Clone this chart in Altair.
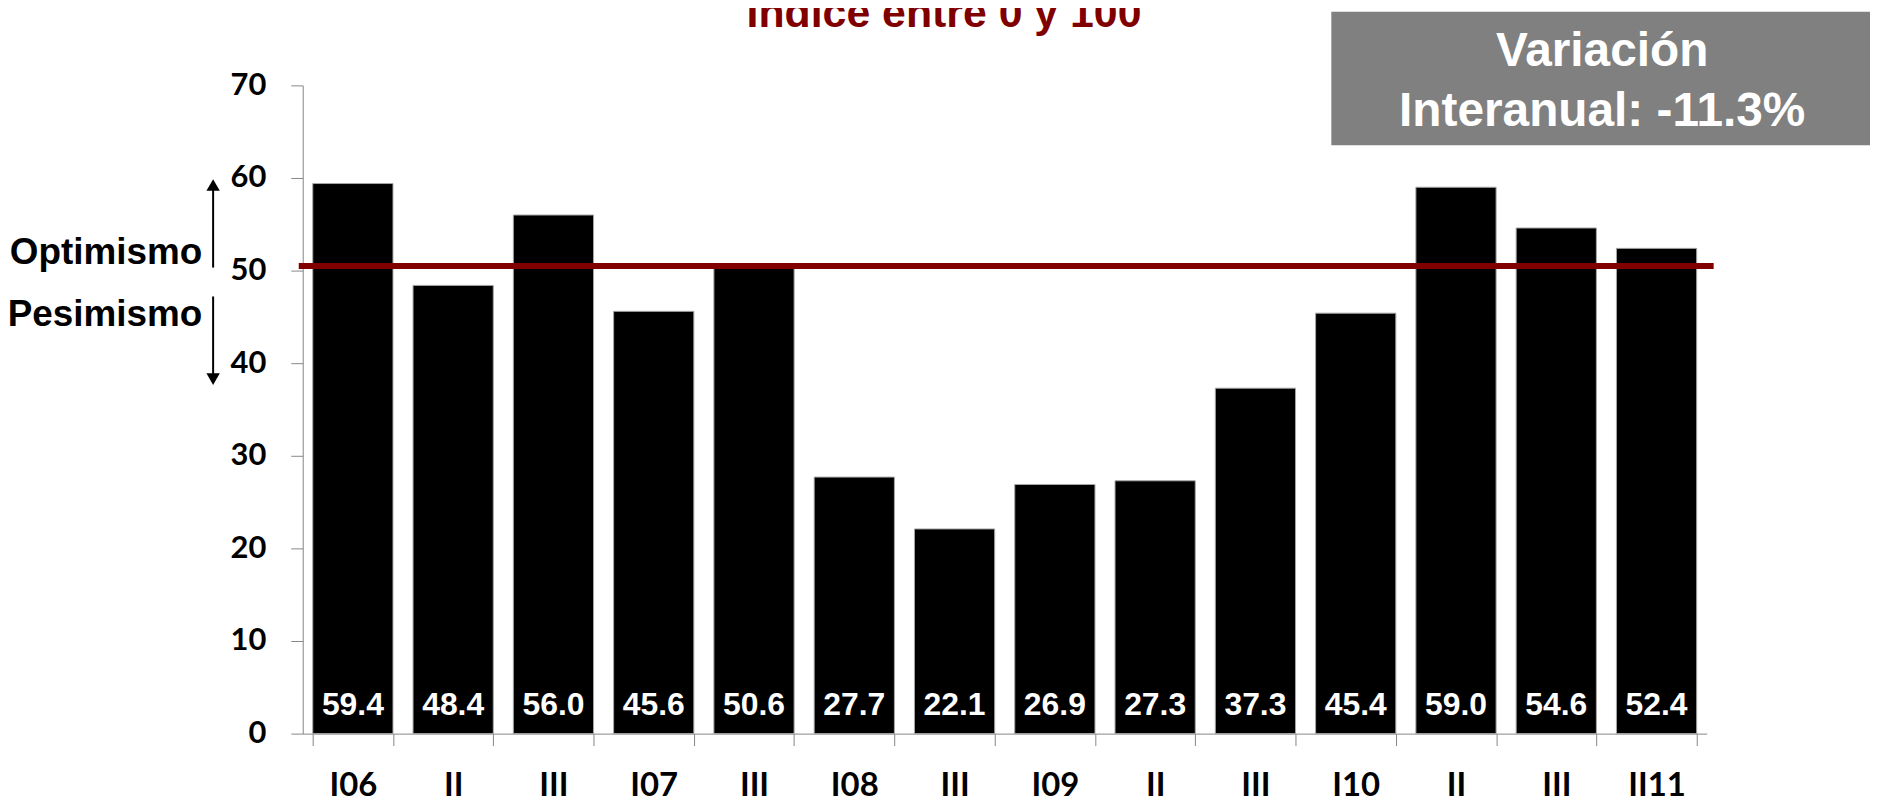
import altair as alt
import pandas as pd

quarters = ["I06", "II", "III", "I07", "III", "I08", "III", "I09", "II", "III", "I10", "II", "III", "II11"]
values = [59.4, 48.4, 56.0, 45.6, 50.6, 27.7, 22.1, 26.9, 27.3, 37.3, 45.4, 59.0, 54.6, 52.4]
threshold = [50.5]
y_ticks = [0, 10, 20, 30, 40, 50, 60, 70]
title_text = "Índice entre 0 y 100"
box_lines = ["Variación", "Interanual: -11.3%"]
side_labels = ["Optimismo", "Pesimismo"]

df = pd.DataFrame({
    "idx": list(range(len(quarters))),
    "label": quarters,
    "value": values,
    "text": [f"{v:.1f}" for v in values],
})

W, H = 1410, 651
GRAY = "#868686"
label_expr = "[" + ",".join(f"'{q}'" for q in quarters) + "][datum.value]"

x_enc = alt.X(
    "idx:O",
    scale=alt.Scale(paddingInner=0.2, paddingOuter=0.1),
    axis=alt.Axis(
        title=None, labelExpr=label_expr, labelAngle=0, grid=False,
        labelFont="Lato", labelFontWeight="bold", labelFontSize=33,
        labelColor="black", labelPadding=24, tickSize=12,
        tickColor=GRAY, domainColor=GRAY, tickBand="extent",
    ),
)
y_enc = alt.Y(
    "value:Q",
    scale=alt.Scale(domain=[0, 70], nice=False),
    axis=alt.Axis(
        title=None, values=y_ticks, grid=False, tickSize=12, labelPadding=25,
        labelFont="Lato", labelFontWeight="bold", labelFontSize=31,
        labelColor="black", tickColor=GRAY, domainColor=GRAY,
    ),
)

base = alt.Chart(df)
bars = base.mark_bar(color="black", stroke="#a6a6a6", strokeWidth=1).encode(x=x_enc, y=y_enc)
vals = base.mark_text(
    color="white", font="Liberation Sans", fontWeight="bold", fontSize=32, baseline="middle"
).encode(x=alt.X("idx:O"), y=alt.value(H - 29), text="text:N")

ref = alt.Chart(pd.DataFrame({"t": threshold})).mark_rule(
    color="#800000", strokeWidth=6
).encode(y=alt.Y("t:Q"), x=alt.value(-4), x2=alt.value(1417))

one = pd.DataFrame({"a": [0]})

box = alt.Chart(one).mark_rect(color="#808080").encode(
    x=alt.value(1033), x2=alt.value(1574), y=alt.value(-74), y2=alt.value(60)
)
box_t1 = alt.Chart(one).mark_text(
    text=box_lines[0], color="white", font="Liberation Sans", fontWeight="bold",
    fontSize=48, baseline="middle", align="center"
).encode(x=alt.value(1305), y=alt.value(-33))
box_t2 = alt.Chart(one).mark_text(
    text=box_lines[1], color="white", font="Liberation Sans", fontWeight="bold",
    fontSize=48, baseline="middle", align="center"
).encode(x=alt.value(1305), y=alt.value(27))

title = alt.Chart(one).mark_text(
    text=title_text, color="#800000", font="Liberation Sans", fontWeight="bold",
    fontSize=43, baseline="alphabetic", align="center"
).encode(x=alt.value(644), y=alt.value(-59))

opt = alt.Chart(one).mark_text(
    text=side_labels[0], color="black", font="Liberation Sans", fontWeight="bold",
    fontSize=37, baseline="middle", align="right"
).encode(x=alt.value(-101), y=alt.value(168))
pes = alt.Chart(one).mark_text(
    text=side_labels[1], color="black", font="Liberation Sans", fontWeight="bold",
    fontSize=37, baseline="middle", align="right"
).encode(x=alt.value(-101), y=alt.value(231))

up_line = alt.Chart(one).mark_rule(color="black", strokeWidth=2).encode(
    x=alt.value(-90), y=alt.value(183), y2=alt.value(104)
)
up_head = alt.Chart(one).mark_point(
    shape="triangle-up", filled=True, size=180, color="black", opacity=1
).encode(x=alt.value(-90), y=alt.value(100))
dn_line = alt.Chart(one).mark_rule(color="black", strokeWidth=2).encode(
    x=alt.value(-90), y=alt.value(212), y2=alt.value(291)
)
dn_head = alt.Chart(one).mark_point(
    shape="triangle-down", filled=True, size=180, color="black", opacity=1
).encode(x=alt.value(-90), y=alt.value(295))

chart = alt.layer(
    bars, vals, ref, box, box_t1, box_t2, title, opt, pes,
    up_line, up_head, dn_line, dn_head,
).properties(
    width=W, height=H,
    padding={"left": 296, "top": 76, "right": 164, "bottom": 71},
    autosize=alt.AutoSizeParams(type="none"),
).configure(background="white").configure_view(stroke=None)

chart.save("out.html", embed_options={"renderer": "svg", "actions": False})
